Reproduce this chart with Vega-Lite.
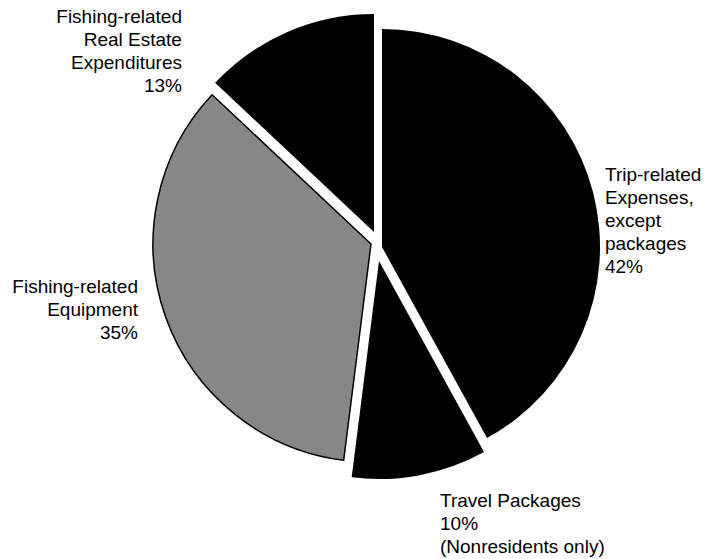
{
  "$schema": "https://vega.github.io/schema/vega-lite/v6.json",
  "width": 673,
  "height": 492,
  "padding": {"left": 40, "top": 0, "right": 0, "bottom": 67},
  "autosize": {"type": "none"},
  "background": "white",
  "config": {"view": {"stroke": null}},
  "data": {
    "values": [
      {"key": "trip", "category": "Trip-related Expenses, except packages", "value": 42, "order": 1, "label": "Trip-related\nExpenses,\nexcept\npackages\n42%"},
      {"key": "travel", "category": "Travel Packages (Nonresidents only)", "value": 10, "order": 2, "label": "Travel Packages\n10%\n(Nonresidents only)"},
      {"key": "equipment", "category": "Fishing-related Equipment", "value": 35, "order": 3, "label": "Fishing-related\nEquipment\n35%"},
      {"key": "realestate", "category": "Fishing-related Real Estate Expenditures", "value": 13, "order": 4, "label": "Fishing-related\nReal Estate\nExpenditures\n13%"}
    ]
  },
  "encoding": {
    "theta": {"field": "value", "type": "quantitative", "stack": true},
    "order": {"field": "order", "type": "quantitative"}
  },
  "layer": [
    {
      "mark": {"type": "arc", "outerRadius": 218, "xOffset": 5.5, "yOffset": 1},
      "encoding": {
        "color": {"field": "key", "type": "nominal", "scale": {"domain": ["trip", "travel", "equipment", "realestate"], "range": ["#000000", "#000000", "#878787", "#000000"]}, "legend": null},
        "opacity": {"condition": {"test": "datum.key === 'trip'", "value": 1}, "value": 0}
      }
    },
    {
      "mark": {"type": "arc", "outerRadius": 218, "xOffset": 2.5, "yOffset": 15},
      "encoding": {
        "color": {"field": "key", "type": "nominal", "legend": null},
        "opacity": {"condition": {"test": "datum.key === 'travel'", "value": 1}, "value": 0}
      }
    },
    {
      "mark": {"type": "arc", "outerRadius": 218, "xOffset": -5.5, "yOffset": -2, "stroke": "#000000", "strokeWidth": 1.5},
      "encoding": {
        "color": {"field": "key", "type": "nominal", "legend": null},
        "opacity": {"condition": {"test": "datum.key === 'equipment'", "value": 1}, "value": 0}
      }
    },
    {
      "mark": {"type": "arc", "outerRadius": 218, "xOffset": -2.5, "yOffset": -14},
      "encoding": {
        "color": {"field": "key", "type": "nominal", "legend": null},
        "opacity": {"condition": {"test": "datum.key === 'realestate'", "value": 1}, "value": 0}
      }
    },
    {
      "mark": {"type": "text", "font": "Liberation Sans", "fontSize": 19, "lineHeight": 23, "lineBreak": "\n", "align": "left", "baseline": "alphabetic", "dx": 5.7, "dy": -7.8, "color": "#000000"},
      "encoding": {
        "radius": {"value": 230},
        "text": {"condition": {"test": "datum.key === 'trip'", "field": "label"}, "value": ""}
      }
    },
    {
      "mark": {"type": "text", "font": "Liberation Sans", "fontSize": 19, "lineHeight": 23, "lineBreak": "\n", "align": "left", "baseline": "alphabetic", "dx": 20.4, "dy": 35.1, "color": "#000000"},
      "encoding": {
        "radius": {"value": 230},
        "text": {"condition": {"test": "datum.key === 'travel'", "field": "label"}, "value": ""}
      }
    },
    {
      "mark": {"type": "text", "font": "Liberation Sans", "fontSize": 19, "lineHeight": 23, "lineBreak": "\n", "align": "right", "baseline": "alphabetic", "dx": -22.1, "dy": -30.9, "color": "#000000"},
      "encoding": {
        "radius": {"value": 230},
        "text": {"condition": {"test": "datum.key === 'equipment'", "field": "label"}, "value": ""}
      }
    },
    {
      "mark": {"type": "text", "font": "Liberation Sans", "fontSize": 19, "lineHeight": 23, "lineBreak": "\n", "align": "right", "baseline": "alphabetic", "dx": -103.2, "dy": -11.9, "color": "#000000"},
      "encoding": {
        "radius": {"value": 230},
        "text": {"condition": {"test": "datum.key === 'realestate'", "field": "label"}, "value": ""}
      }
    }
  ]
}
